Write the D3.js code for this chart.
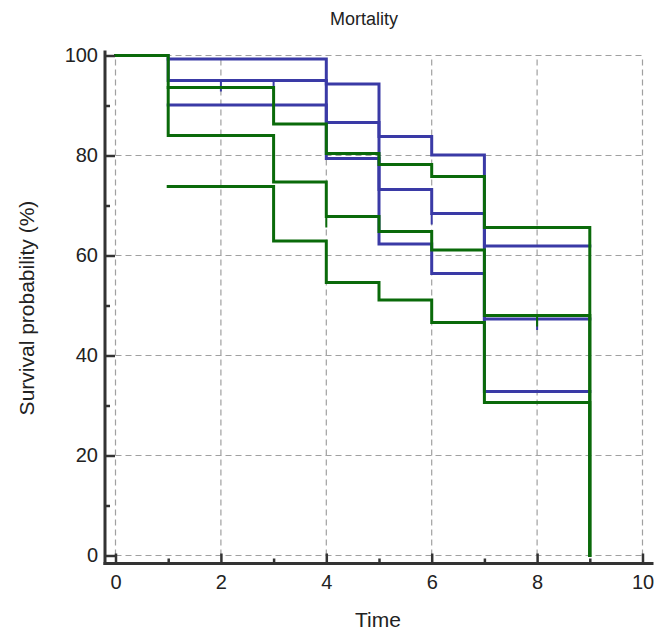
<!DOCTYPE html>
<html>
<head>
<meta charset="utf-8">
<script src="https://cdn.jsdelivr.net/npm/d3@7"></script>
<style>
  body { margin: 0; background: #fff; }
  svg text { font-family: "Liberation Sans", Arial, sans-serif; fill: #222; }
</style>
</head>
<body>
<svg width="664" height="632"></svg>
<script>
(function (d3) {
  'use strict';
  const titleText = 'Mortality';
  const xAxisLabelText = 'Time';
  const yAxisLabelText = 'Survival probability (%)';

  // group 1 (blue): Kaplan-Meier estimate + 95% CI
  const blueTime = [0, 1, 4, 5, 6, 7, 9];
  const blueSurv = [100, 95.0, 86.6, 73.2, 68.4, 47.3, 47.3];
  const blueCITime = [1, 4, 5, 6, 7, 9];
  const blueUpper = [99.3, 94.3, 83.8, 80.1, 61.9, 61.9];
  const blueLower = [90.1, 79.4, 62.3, 56.4, 32.8, 32.8];
  const blueCensored = [2, 3, 6, 8];

  // group 2 (green)
  const greenTime = [0, 1, 3, 4, 5, 6, 7, 9];
  const greenSurv = [100, 84.0, 74.7, 67.8, 64.8, 61.1, 48.0, 0];
  const greenCITime = [1, 3, 4, 5, 6, 7, 9];
  const greenUpper = [93.6, 86.3, 80.4, 78.2, 75.8, 65.6, 0];
  const greenLower = [73.8, 62.9, 54.6, 51.1, 46.6, 30.6, 0];
  const greenCensored = [4, 8];

  const xTicks = [0, 2, 4, 6, 8, 10];
  const xMinor = [1, 3, 5, 7, 9];
  const yTicks = [0, 20, 40, 60, 80, 100];
  const yMinor = [10, 30, 50, 70, 90];

  const blue = '#3a3aa6';
  const green = '#0a6a0a';

  const svg = d3.select('svg');
  const width = +svg.attr('width');
  const height = +svg.attr('height');

  const xScale = d3.scaleLinear().domain([0, 10]).range([115.5, 642.5]);
  const yScale = d3.scaleLinear().domain([0, 100]).range([555.5, 55.5]);
  const axisX = 105;   // left axis line position
  const axisY = 563.5; // bottom axis line position

  const g = svg.append('g');

  // dashed grid
  g.append('g').selectAll('line').data(xTicks)
    .enter().append('line')
      .attr('x1', d => xScale(d)).attr('x2', d => xScale(d))
      .attr('y1', yScale(0)).attr('y2', yScale(100))
      .attr('stroke', '#a0a0a0').attr('stroke-width', 1.2)
      .attr('stroke-dasharray', '6,4');
  g.append('g').selectAll('line').data(yTicks)
    .enter().append('line')
      .attr('y1', d => yScale(d)).attr('y2', d => yScale(d))
      .attr('x1', xScale(0)).attr('x2', xScale(10))
      .attr('stroke', '#a0a0a0').attr('stroke-width', 1.2)
      .attr('stroke-dasharray', '6,4');

  const step = d3.line()
    .x(d => xScale(d[0]))
    .y(d => yScale(d[1]))
    .curve(d3.curveStepAfter);

  const drawCurve = (times, values, color) => {
    g.append('path')
      .datum(times.map((t, i) => [t, values[i]]))
      .attr('d', step)
      .attr('fill', 'none')
      .attr('stroke', color)
      .attr('stroke-width', 3)
      .attr('stroke-linejoin', 'miter')
      .attr('stroke-linecap', 'square');
  };

  const survAt = (times, values, t) => values[d3.bisectRight(times, t) - 1];

  const drawCensored = (censored, times, values, color) => {
    g.append('g').selectAll('line').data(censored)
      .enter().append('line')
        .attr('x1', d => xScale(d)).attr('x2', d => xScale(d))
        .attr('y1', d => yScale(survAt(times, values, d)))
        .attr('y2', d => yScale(survAt(times, values, d)) + 11)
        .attr('stroke', color).attr('stroke-width', 2);
  };

  drawCurve(blueCITime, blueUpper, blue);
  drawCurve(blueCITime, blueLower, blue);
  drawCurve(blueTime, blueSurv, blue);
  drawCensored(blueCensored, blueTime, blueSurv, blue);

  drawCurve(greenCITime, greenUpper, green);
  drawCurve(greenCITime, greenLower, green);
  drawCurve(greenTime, greenSurv, green);
  drawCensored(greenCensored, greenTime, greenSurv, green);

  // axes
  const yAxisG = g.append('g')
    .attr('transform', `translate(${axisX},0)`)
    .call(d3.axisLeft(yScale).tickValues(yTicks).tickSize(-10).tickPadding(7));
  yAxisG.append('g')
    .call(d3.axisLeft(yScale).tickValues(yMinor).tickSize(-5).tickFormat(''));

  const xAxisG = g.append('g')
    .attr('transform', `translate(0,${axisY})`)
    .call(d3.axisBottom(xScale).tickValues(xTicks).tickSize(-10).tickPadding(11));
  xAxisG.append('g')
    .call(d3.axisBottom(xScale).tickValues(xMinor).tickSize(-5).tickFormat(''));

  svg.selectAll('.domain').remove();
  svg.selectAll('.tick line').attr('stroke', '#333').attr('stroke-width', 2.5);
  svg.selectAll('.tick text').attr('font-size', 20).attr('fill', '#222')
    .style('font-family', '"Liberation Sans", Arial, sans-serif');

  g.append('line')
    .attr('x1', axisX).attr('x2', axisX)
    .attr('y1', yScale(100) - 5).attr('y2', axisY + 1.5)
    .attr('stroke', '#333').attr('stroke-width', 3);
  g.append('line')
    .attr('x1', axisX - 1.5).attr('x2', xScale(10) + 11)
    .attr('y1', axisY).attr('y2', axisY)
    .attr('stroke', '#333').attr('stroke-width', 3);

  // labels
  svg.append('text')
    .attr('x', 364).attr('y', 25)
    .attr('text-anchor', 'middle')
    .attr('font-size', 18)
    .text(titleText);

  svg.append('text')
    .attr('x', 378).attr('y', 627)
    .attr('text-anchor', 'middle')
    .attr('font-size', 21)
    .text(xAxisLabelText);

  svg.append('text')
    .attr('transform', 'translate(34,308) rotate(-90)')
    .attr('text-anchor', 'middle')
    .attr('font-size', 21)
    .text(yAxisLabelText);

}(d3));
</script>
</body>
</html>
